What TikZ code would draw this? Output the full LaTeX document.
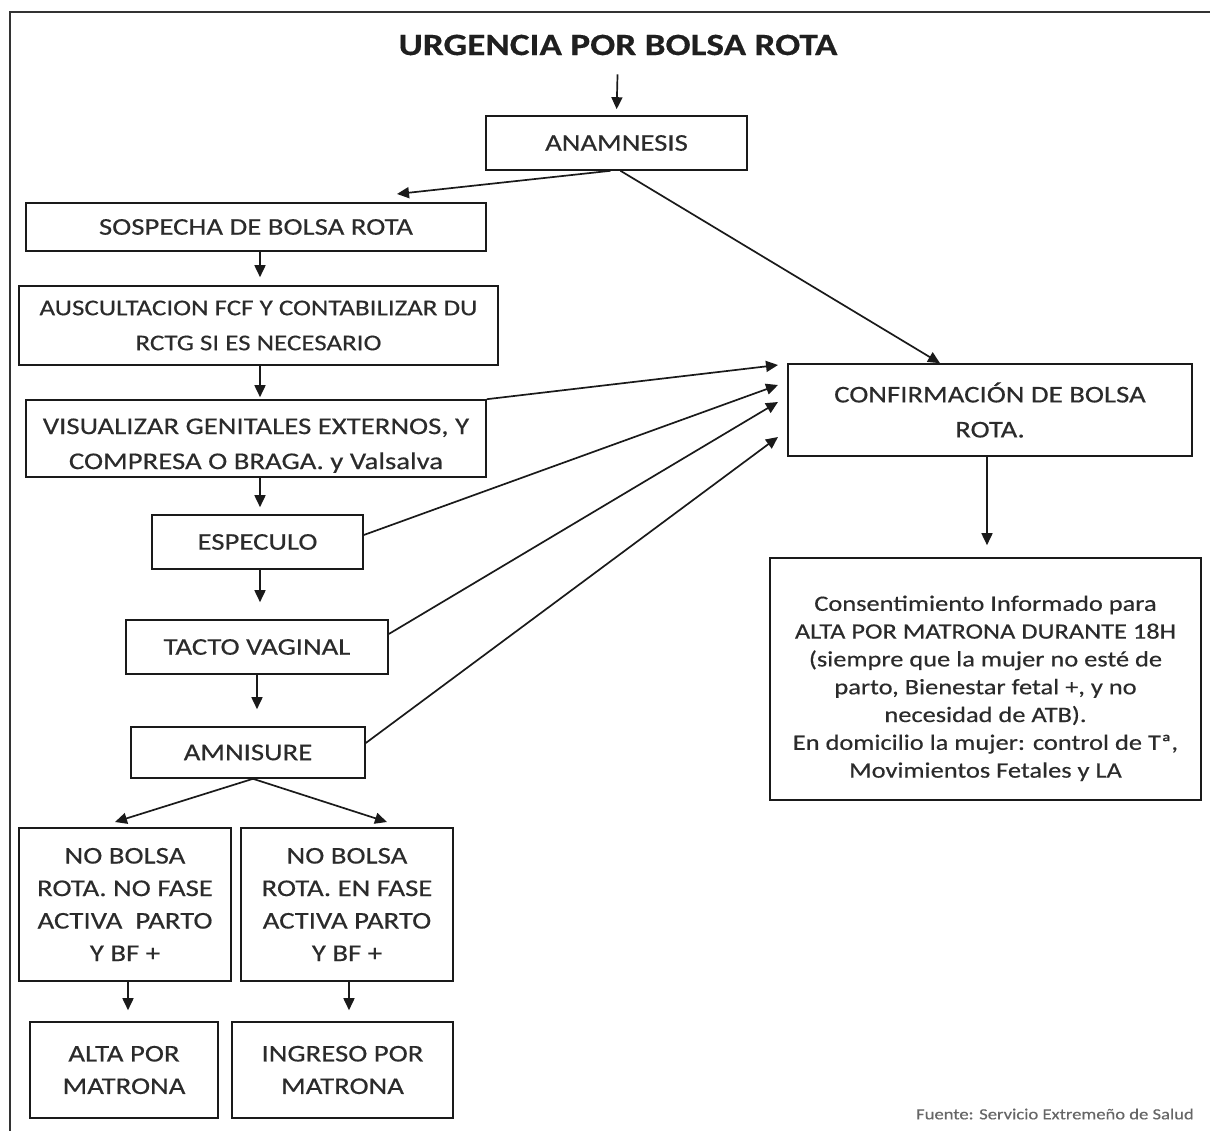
\documentclass[tikz,border=0pt]{standalone}
\usepackage{fontspec}
\setmainfont{Carlito}[FakeStretch=1.2,FakeBold=0.4]
\usetikzlibrary{arrows.meta,calc}
\definecolor{txt}{HTML}{2B2B2B}
\definecolor{ln}{HTML}{1A1A1A}
\begin{document}
\begin{tikzpicture}[x=1pt,y=-1pt,
  box/.style={draw=ln,line width=1.6pt,inner sep=0pt,align=center,text=txt,font=\fontsize{24}{35}\selectfont},
  boxb/.style={box,font=\fontsize{24}{32.5}\selectfont},
  arr/.style={draw=ln,line width=1.7pt,-{Triangle[length=12pt,width=11pt]}}]
\useasboundingbox (0,0) rectangle (1210,1131);
\draw[line width=2.2pt,black!80] (1210,12) -- (10,12) -- (10,1131);
\node[font=\bfseries\fontsize{31}{35}\selectfont,text=black!88,inner sep=0pt] (title) at (618,45) {URGENCIA POR BOLSA ROTA};
\node[box,minimum width=261pt,minimum height=54pt] (ana) at (616.5,143) {ANAMNESIS};
\node[box,minimum width=460pt,minimum height=48pt] (sos) at (256,227) {SOSPECHA DE BOLSA ROTA};
\node[box,font=\fontsize{22.5}{35}\selectfont,minimum width=479pt,minimum height=79pt] (aus) at (258.5,325.5) {AUSCULTACION FCF Y CONTABILIZAR DU\\RCTG SI ES NECESARIO};
\node[box,minimum width=460pt,minimum height=77pt] (vis) at (256,438.5) {\rule{0pt}{30pt}VISUALIZAR GENITALES EXTERNOS, Y\\COMPRESA O BRAGA. y Valsalva};
\node[box,minimum width=211pt,minimum height=54pt] (esp) at (257.5,542) {ESPECULO};
\node[box,minimum width=262pt,minimum height=54pt] (tac) at (257,647) {TACTO VAGINAL};
\node[box,minimum width=234pt,minimum height=51pt] (amn) at (248,752.5) {AMNISURE};
\node[boxb,minimum width=212pt,minimum height=153pt] (nb1) at (125,904.5) {NO BOLSA\\ROTA. NO FASE\\ACTIVA\ \ PARTO\\Y BF +};
\node[boxb,minimum width=212pt,minimum height=153pt] (nb2) at (347,904.5) {NO BOLSA\\ROTA. EN FASE\\ACTIVA PARTO\\Y BF +};
\node[boxb,minimum width=188pt,minimum height=96pt] (alt) at (124,1070) {ALTA POR\\MATRONA};
\node[boxb,minimum width=221pt,minimum height=96pt] (ing) at (342.5,1070) {INGRESO POR\\MATRONA};
\node[box,minimum width=404pt,minimum height=92pt] (conf) at (990,410) {CONFIRMACIÓN DE BOLSA\\ROTA.};
\node[box,font=\fontsize{22}{27.8}\selectfont,minimum width=431pt,minimum height=242pt] (cons) at (985.5,679) {\rule{0pt}{34pt}Consentimiento Informado para\\ALTA POR MATRONA DURANTE 18H\\(siempre que la mujer no esté de\\parto, Bienestar fetal +, y no\\necesidad de ATB).\\En domicilio la mujer: control de Tª,\\Movimientos Fetales y LA};
\node[anchor=east,font=\fontsize{15.5}{18}\selectfont,text=black!60,inner sep=0pt] (src) at (1194,1114) {Fuente: Servicio Extremeño de Salud};
\coordinate (t1) at (397,194);
\coordinate (t2) at (115,822);
\coordinate (t3) at (387,822);
\coordinate (c1) at (778,365);
\coordinate (c2) at (778,385);
\coordinate (c3) at (778,402);
\coordinate (c4) at (778,437);
\draw[arr,shorten <=19pt,shorten >=6pt] (title.south) -- (ana.north);
\draw[arr] ([xshift=-6pt]ana.south) -- (t1);
\draw[arr] ([xshift=4pt]ana.south) -- ([xshift=-50pt]conf.north);
\draw[arr,shorten >=8pt] ([xshift=4pt]sos.south) -- ([xshift=1.5pt]aus.north);
\draw[arr,shorten >=2pt] ([xshift=1.5pt]aus.south) -- ([xshift=4pt]vis.north);
\draw[arr,shorten >=7pt] ([xshift=4pt]vis.south) -- ([xshift=2.5pt]esp.north);
\draw[arr,shorten >=17pt] ([xshift=2.5pt]esp.south) -- ([xshift=3pt]tac.north);
\draw[arr,shorten >=17pt] (tac.south) -- ([xshift=9pt]amn.north);
\draw[arr] ([xshift=5pt]amn.south) -- (t2);
\draw[arr] ([xshift=5pt]amn.south) -- (t3);
\draw[arr,shorten >=11pt] ([xshift=3pt]nb1.south) -- ([xshift=4pt]alt.north);
\draw[arr,shorten >=11pt] ([xshift=2pt]nb2.south) -- ([xshift=6.5pt]ing.north);
\draw[arr,shorten >=12pt] ([xshift=-3pt]conf.south) -- ([xshift=1.5pt]cons.north);
\draw[arr] (vis.north east) -- (c1);
\draw[arr] ([yshift=7pt]esp.east) -- (c2);
\draw[arr] ([yshift=13pt]tac.east) -- (c3);
\draw[arr] ([yshift=9.5pt]amn.east) -- (c4);
\end{tikzpicture}
\end{document}
